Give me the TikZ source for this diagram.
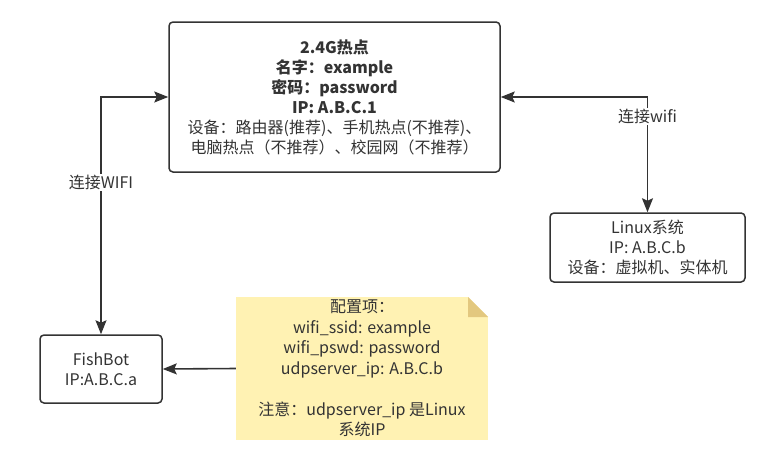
\documentclass[tikz,border=0pt]{standalone}
\usepackage{fontspec}
\setmainfont{Noto Sans CJK SC}
\usepackage{xcolor}
\usepackage{tikz}
\usetikzlibrary{arrows.meta,positioning,calc}
\definecolor{ink}{HTML}{333333}
\definecolor{notefill}{HTML}{FFF2B3}
\definecolor{foldfill}{HTML}{E3C87F}
\tikzset{
  box/.style={rectangle, rounded corners=4pt, draw=ink, line width=1.5pt, align=center, text=ink, font=\fontsize{16}{20}\selectfont},
  cfgnote/.style={rectangle, align=center, text=ink, inner sep=0pt, font=\fontsize{16}{20.5}\selectfont, fill=notefill,
    path picture={
      \fill[white] ([xshift=-20pt]path picture bounding box.north east) -- (path picture bounding box.north east) -- ([yshift=-20pt]path picture bounding box.north east) -- cycle;
      \fill[foldfill] ([xshift=-20pt]path picture bounding box.north east) -- ([xshift=-20pt,yshift=-20pt]path picture bounding box.north east) -- ([yshift=-20pt]path picture bounding box.north east) -- cycle;
    }},
  link/.style={draw=ink, line width=1.6pt, {Stealth[length=14pt,width=11pt,inset=2.5pt]}-{Stealth[length=14pt,width=11pt,inset=2.5pt]}},
  onelink/.style={draw=ink, line width=1.6pt, -{Stealth[length=14pt,width=11pt,inset=2.5pt]}},
  linklabel/.style={fill=white, text=ink, inner sep=1pt, font=\fontsize{16}{20}\selectfont}
}

\begin{document}
\begin{tikzpicture}[x=1pt, y=-1pt]
  \useasboundingbox (0,0) rectangle (760,461);

  \node[box, minimum width=331pt, minimum height=150pt] (hotspot) at (334.5,97)
    {\textbf{2.4G热点}\\\textbf{名字：example}\\\textbf{密码：password}\\\textbf{IP: A.B.C.1}\\设备：路由器(推荐)、手机热点(不推荐)、\\电脑热点（不推荐）、校园网（不推荐）};
  \node[box, minimum width=195pt, minimum height=69pt] (linux) at (647.5,247.5)
    {Linux系统\\IP: A.B.C.b\\设备：虚拟机、实体机};
  \node[box, minimum width=122pt, minimum height=68pt] (fishbot) at (101,369)
    {FishBot\\IP:A.B.C.a};
  \node[cfgnote, minimum width=252pt, minimum height=143pt] (cfg) at (362,368.5)
    {配置项：\\wifi\_ssid: example\\wifi\_pswd: password\\udpserver\_ip: A.B.C.b\\[20.5pt]注意：udpserver\_ip 是Linux\\系统IP};

  \draw[link] (hotspot.west) -| (fishbot.north) node[linklabel, pos=0.68] {连接WIFI};
  \draw[link] (hotspot.east) -| (linux.north) node[linklabel, pos=0.586] {连接wifi};
  \draw[onelink] (cfg.west) -- (fishbot.east);
\end{tikzpicture}
\end{document}
